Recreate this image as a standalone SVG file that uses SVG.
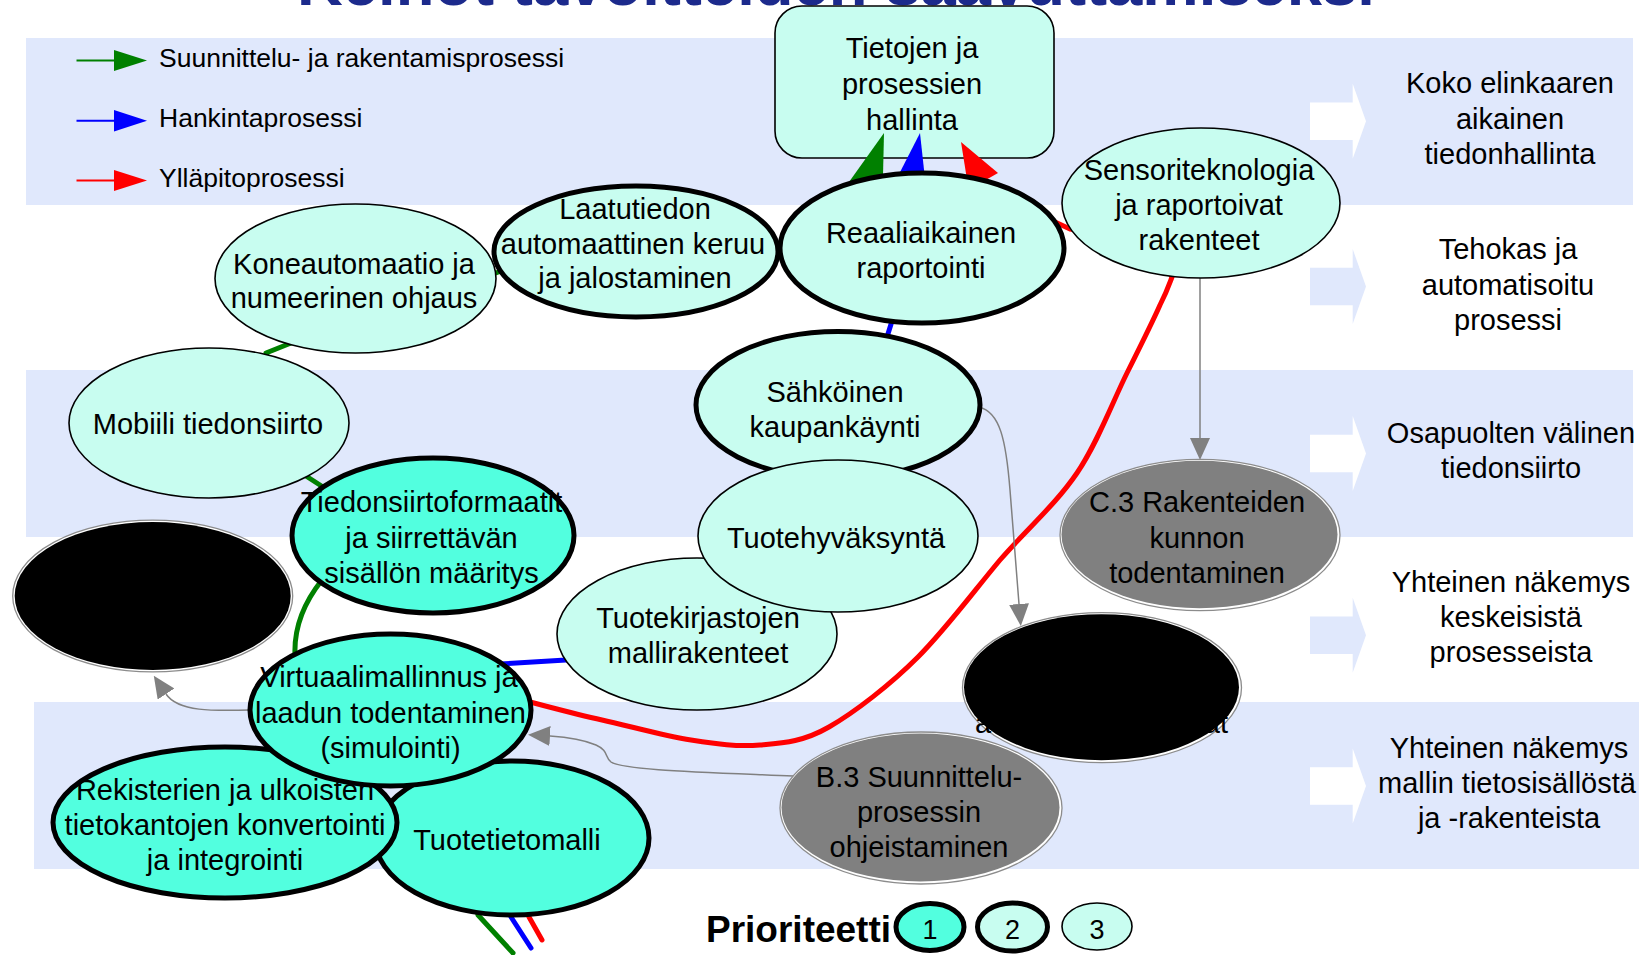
<svg xmlns="http://www.w3.org/2000/svg" width="1646" height="955" viewBox="0 0 1646 955">
<style>
text{font-family:"Liberation Sans",Arial,Helvetica,sans-serif;fill:#000}
.t{font-size:29px;text-anchor:middle}
.lg{font-size:26.5px}
.band{fill:#E0E8FC}
.lt{fill:#C8FDF0;stroke:#000;stroke-width:1.6}
.lt5{fill:#C8FDF0;stroke:#000;stroke-width:5}
.aq{fill:#52FFDF;stroke:#000;stroke-width:5}
.ring{fill:#fff;stroke:#8c8c8c;stroke-width:1.3}
.gray{fill:#808080}
.black{fill:#000}
.pl{fill:none;stroke-width:5;stroke-linecap:round;stroke-linejoin:round}
.g{stroke:#008000}.b{stroke:#0000FF}.r{stroke:#FF0000}
.gf{fill:#008000}.bf{fill:#0000FF}.rf{fill:#FF0000}
.gy{fill:none;stroke:#808080;stroke-width:1.5;marker-end:url(#garrow)}
.lgl{stroke-width:2}
</style>
<defs>
<marker id="garrow" viewBox="0 0 22 20" refX="0" refY="10" markerWidth="22" markerHeight="20" markerUnits="userSpaceOnUse" orient="auto"><path d="M0,0 L22,10 L0,20 z" fill="#808080"/></marker>
<polygon id="blockarrow" points="0,-18.7 42.7,-18.7 42.7,-37.5 56,0 42.7,37.5 42.7,18.7 0,18.7"/>
</defs>

<g id="bands">
<rect class="band" x="26" y="38" width="1607" height="167"/>
<rect class="band" x="26" y="370" width="1607" height="167"/>
<rect class="band" x="34" y="702" width="1605" height="167"/>
</g>

<g id="title">
<text x="836" y="5" font-size="63.4" font-weight="bold" text-anchor="middle" style="fill:#1C2A8C">Keinot tavoitteiden saavuttamiseksi</text>
</g>

<g id="legend">
<line class="g lgl" x1="76.5" y1="60.5" x2="116" y2="60.5"/>
<polygon class="gf" points="114,50 147,60.5 114,71"/>
<text class="lg" x="159" y="67">Suunnittelu- ja rakentamisprosessi</text>
<line class="b lgl" x1="76.5" y1="120.7" x2="116" y2="120.7"/>
<polygon class="bf" points="114,110 147,120.7 114,131.5"/>
<text class="lg" x="159" y="127">Hankintaprosessi</text>
<line class="r lgl" x1="76.5" y1="180.5" x2="116" y2="180.5"/>
<polygon class="rf" points="114,170 147,180.5 114,191"/>
<text class="lg" x="159" y="187">Ylläpitoprosessi</text>
</g>

<g id="goals">
<g id="goal-1"><use href="#blockarrow" x="1310" y="121.3" fill="#fff"/>
<text class="t" x="1510" y="92.7">Koko elinkaaren</text><text class="t" x="1510" y="128.5">aikainen</text><text class="t" x="1510" y="164.3">tiedonhallinta</text></g>
<g id="goal-2"><use href="#blockarrow" x="1310" y="286.5" fill="#E0E8FC"/>
<text class="t" x="1508" y="259">Tehokas ja</text><text class="t" x="1508" y="295">automatisoitu</text><text class="t" x="1508" y="330">prosessi</text></g>
<g id="goal-3"><use href="#blockarrow" x="1310" y="453.5" fill="#fff"/>
<text class="t" x="1511" y="443">Osapuolten välinen</text><text class="t" x="1511" y="478">tiedonsiirto</text></g>
<g id="goal-4"><use href="#blockarrow" x="1310" y="635.3" fill="#E0E8FC"/>
<text class="t" x="1511" y="592">Yhteinen näkemys</text><text class="t" x="1511" y="627">keskeisistä</text><text class="t" x="1511" y="662">prosesseista</text></g>
<g id="goal-5"><use href="#blockarrow" x="1310" y="786" fill="#fff"/>
<text class="t" x="1509" y="758">Yhteinen näkemys</text><text class="t" x="1507" y="793">mallin tietosisällöstä</text><text class="t" x="1509" y="828">ja -rakenteista</text></g>
</g>

<g id="n-tietojen">
<rect class="lt" x="775" y="6" width="279" height="152" rx="27" ry="27"/>
<text class="t" x="912" y="58">Tietojen ja</text><text class="t" x="912" y="94">prosessien</text><text class="t" x="912" y="130">hallinta</text>
</g>

<g id="connectors">
<path class="pl g" d="M513,953 L478,915 L455,773 L295,655 C294,630 302,605 322,580 L323,487 L306,476 L266,353 L291,343 L493,274 L504,270 L773,250 L778,247 L866,188"/>
<path class="pl b" d="M531,948 L511,917 L460,775 L500,664 L566,660 L697,634 L838,536 L838,405 L887,337 L892,321 L910,185"/>
<path class="pl r" d="M542,940 L529,917 L465,776 L530,702 C542,705 575,714 602,720 C629,726 665,736 691,740 C717,744 737,747 760,745 C783,743 803,742 829,727 C855,712 890,685 918,657 C946,629 974,591 1000,560 C1027,529 1056,504 1077,473 C1098,442 1113,401 1127,373 C1141,345 1153,321 1160,305 C1168,289 1170,282 1172,277 L1150,240 L1070,229 L1055,222 L983,182"/>
<polygon class="gf" points="884,133 849,182 882.6,193"/>
<polygon class="bf" points="920,133 895,182 926,188"/>
<polygon class="rf" points="961,142 998,173 968.6,189.7"/>
<path class="gy" d="M1200,277 L1200,438"/>
<path class="gy" d="M979,407 C1000,412 1006,440 1010,490 C1014,540 1017,580 1019,604"/>
<path class="gy" d="M250,710 C214,711 178,712 166,694"/>
<path class="gy" d="M793,776 C700,772 622,770 611,762 C604,756 609,751 596,745 C582,739 566,737 550,736"/>
</g>

<g id="n-koneautomaatio">
<ellipse class="lt" cx="355.5" cy="278.5" rx="140.5" ry="74.5"/>
<text class="t" x="354" y="274">Koneautomaatio ja</text><text class="t" x="354" y="308">numeerinen ohjaus</text>
</g>
<g id="n-laatutiedon">
<ellipse class="lt5" cx="636" cy="251.5" rx="142" ry="65.5"/>
<text class="t" x="635" y="219">Laatutiedon</text><text class="t" x="633" y="254">automaattinen keruu</text><text class="t" x="635" y="288">ja jalostaminen</text>
</g>
<g id="n-reaaliaikainen">
<ellipse class="lt5" cx="922" cy="248" rx="142" ry="75"/>
<text class="t" x="921" y="243">Reaaliaikainen</text><text class="t" x="921" y="278">raportointi</text>
</g>
<g id="n-sensoriteknologia">
<ellipse class="lt" cx="1201" cy="203" rx="139" ry="75"/>
<text class="t" x="1199" y="180">Sensoriteknologia</text><text class="t" x="1199" y="215">ja raportoivat</text><text class="t" x="1199" y="250">rakenteet</text>
</g>
<g id="n-mobiili">
<ellipse class="lt" cx="209" cy="423" rx="140" ry="75"/>
<text class="t" x="208" y="434">Mobiili tiedonsiirto</text>
</g>
<g id="n-tiedonsiirtoformaatit">
<ellipse class="aq" cx="433" cy="535.5" rx="141" ry="77.5"/>
<text class="t" x="431.5" y="512">Tiedonsiirtoformaatit</text><text class="t" x="431.5" y="548">ja siirrettävän</text><text class="t" x="431.5" y="583">sisällön määritys</text>
</g>
<g id="n-hidden-1">
<ellipse class="ring" cx="152.7" cy="596" rx="140" ry="75.9"/>
<ellipse class="black" cx="152.7" cy="596" rx="138" ry="74"/>
</g>
<g id="n-sahkoinen">
<ellipse class="lt5" cx="838" cy="405" rx="142" ry="73.5"/>
<text class="t" x="835" y="402">Sähköinen</text><text class="t" x="835" y="437">kaupankäynti</text>
</g>
<g id="n-tuotekirjastojen">
<ellipse class="lt" cx="697" cy="634" rx="140" ry="76"/>
<text class="t" x="698" y="628">Tuotekirjastojen</text><text class="t" x="698" y="663">mallirakenteet</text>
</g>
<g id="n-tuotehyvaksynta">
<ellipse class="lt" cx="838" cy="536" rx="140" ry="76"/>
<text class="t" x="836" y="548">Tuotehyväksyntä</text>
</g>
<g id="n-c3">
<ellipse class="ring" cx="1200" cy="535" rx="140" ry="75.7"/>
<ellipse class="gray" cx="1199.5" cy="534.5" rx="138" ry="73.7"/>
<text class="t" x="1197" y="512">C.3 Rakenteiden</text><text class="t" x="1197" y="548">kunnon</text><text class="t" x="1197" y="583">todentaminen</text>
</g>
<g id="n-hidden-2">
<ellipse class="ring" cx="1102" cy="687.7" rx="139.5" ry="75"/>
<ellipse class="black" cx="1101.5" cy="687.2" rx="137.5" ry="73"/>
<text x="975" y="733" font-size="29">a</text>
<text x="1228" y="733" font-size="29" text-anchor="end">at</text>
</g>
<g id="n-tuotetietomalli">
<ellipse class="aq" cx="512" cy="838" rx="137" ry="77"/>
<text class="t" x="507" y="850">Tuotetietomalli</text>
</g>
<g id="n-rekisterien">
<ellipse class="aq" cx="225" cy="822.5" rx="172" ry="75.5"/>
<text class="t" x="225" y="800">Rekisterien ja ulkoisten</text><text class="t" x="225" y="835">tietokantojen konvertointi</text><text class="t" x="225" y="870">ja integrointi</text>
</g>
<g id="n-virtuaalimallinnus">
<ellipse class="aq" cx="390.5" cy="710" rx="140.5" ry="76"/>
<text class="t" x="389" y="687">Virtuaalimallinnus ja</text><text class="t" x="390.5" y="723">laadun todentaminen</text><text class="t" x="390.5" y="758">(simulointi)</text>
</g>
<g id="n-b3">
<ellipse class="ring" cx="921" cy="808" rx="141" ry="76"/>
<ellipse class="gray" cx="920.5" cy="807.5" rx="139" ry="74"/>
<text class="t" x="919" y="787">B.3 Suunnittelu-</text><text class="t" x="919" y="822">prosessin</text><text class="t" x="919" y="857">ohjeistaminen</text>
</g>

<g id="priority-legend">
<text x="706" y="942" font-size="37" font-weight="bold">Prioriteetti</text>
<ellipse class="aq" cx="930" cy="927" rx="34" ry="23.5"/>
<text class="t" x="930" y="939" style="font-size:27px">1</text>
<ellipse class="lt5" cx="1012.5" cy="927" rx="35" ry="24"/>
<text class="t" x="1012.5" y="939" style="font-size:27px">2</text>
<ellipse class="lt" cx="1097" cy="926.5" rx="35" ry="23.5"/>
<text class="t" x="1097" y="939" style="font-size:27px">3</text>
</g>
</svg>
